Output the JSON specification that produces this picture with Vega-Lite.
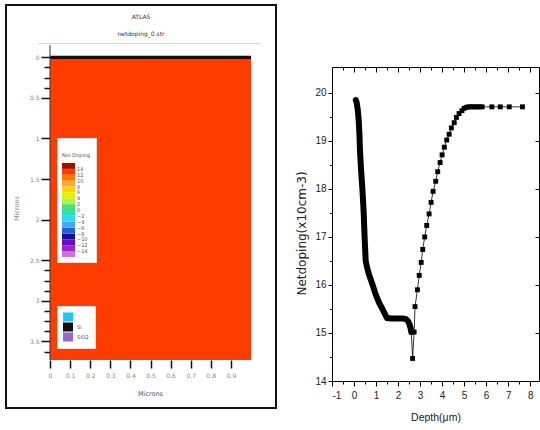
{
  "$schema": "https://vega.github.io/schema/vega-lite/v6.json",
  "padding": {"left": 5, "top": 4, "right": 0, "bottom": 0},
  "background": "white",
  "spacing": 18,
  "datasets": {
    "substrate": [{"x0": 0, "x1": 1.0, "y0": 0.02, "y1": 3.728, "doping": 13}],
    "surface": [{"x0": 0, "x1": 1.0, "y0": -0.02, "y1": 0.02, "material": "Si"}],
    "electrode": [{"x0": -0.06, "x1": 1.05, "y0": -0.17}],
    "axisline": [{"x0": 0, "y0": -0.15, "y1": 3.73}],
    "profile": [
      {"d": 0.08, "n": 19.85, "s": "dense"},
      {"d": 0.12, "n": 19.8, "s": "dense"},
      {"d": 0.17, "n": 19.65, "s": "dense"},
      {"d": 0.21, "n": 19.45, "s": "dense"},
      {"d": 0.25, "n": 19.1, "s": "dense"},
      {"d": 0.27, "n": 18.8, "s": "dense"},
      {"d": 0.32, "n": 18.4, "s": "dense"},
      {"d": 0.38, "n": 18.0, "s": "dense"},
      {"d": 0.44, "n": 17.5, "s": "dense"},
      {"d": 0.48, "n": 17.0, "s": "dense"},
      {"d": 0.53, "n": 16.5, "s": "dense"},
      {"d": 0.6, "n": 16.35, "s": "dense"},
      {"d": 0.68, "n": 16.22, "s": "dense"},
      {"d": 0.77, "n": 16.1, "s": "dense"},
      {"d": 0.86, "n": 15.98, "s": "dense"},
      {"d": 0.95, "n": 15.85, "s": "dense"},
      {"d": 1.03, "n": 15.75, "s": "dense"},
      {"d": 1.15, "n": 15.62, "s": "dense"},
      {"d": 1.29, "n": 15.5, "s": "dense"},
      {"d": 1.4, "n": 15.4, "s": "dense"},
      {"d": 1.5, "n": 15.31, "s": "dense"},
      {"d": 1.7, "n": 15.3, "s": "dense"},
      {"d": 2.0, "n": 15.3, "s": "dense"},
      {"d": 2.2, "n": 15.3, "s": "dense"},
      {"d": 2.35, "n": 15.29, "s": "dense"},
      {"d": 2.45, "n": 15.25, "s": "dense"},
      {"d": 2.52, "n": 15.18, "s": "dense"},
      {"d": 2.58, "n": 15.08, "s": "dense"},
      {"d": 2.6, "n": 15.02, "s": "dense"},
      {"d": 2.6, "n": 15.02, "s": "sq"},
      {"d": 2.66, "n": 14.47, "s": "sq"},
      {"d": 2.73, "n": 15.02, "s": "sq"},
      {"d": 2.77, "n": 15.55, "s": "sq"},
      {"d": 2.88, "n": 15.9, "s": "sq"},
      {"d": 2.96, "n": 16.2, "s": "sq"},
      {"d": 3.05, "n": 16.47, "s": "sq"},
      {"d": 3.12, "n": 16.74, "s": "sq"},
      {"d": 3.21, "n": 17.0, "s": "sq"},
      {"d": 3.3, "n": 17.24, "s": "sq"},
      {"d": 3.41, "n": 17.48, "s": "sq"},
      {"d": 3.5, "n": 17.72, "s": "sq"},
      {"d": 3.59, "n": 17.95, "s": "sq"},
      {"d": 3.71, "n": 18.16, "s": "sq"},
      {"d": 3.8, "n": 18.36, "s": "sq"},
      {"d": 3.91, "n": 18.55, "s": "sq"},
      {"d": 4.0, "n": 18.71, "s": "sq"},
      {"d": 4.1, "n": 18.87, "s": "sq"},
      {"d": 4.21, "n": 19.02, "s": "sq"},
      {"d": 4.32, "n": 19.14, "s": "sq"},
      {"d": 4.42, "n": 19.27, "s": "sq"},
      {"d": 4.55, "n": 19.38, "s": "sq"},
      {"d": 4.65, "n": 19.49, "s": "sq"},
      {"d": 4.77, "n": 19.57, "s": "sq"},
      {"d": 4.9, "n": 19.63, "s": "sq"},
      {"d": 5.0, "n": 19.68, "s": "sq"},
      {"d": 5.1, "n": 19.7, "s": "sq"},
      {"d": 5.2, "n": 19.71, "s": "sq"},
      {"d": 5.3, "n": 19.71, "s": "sq"},
      {"d": 5.4, "n": 19.71, "s": "sq"},
      {"d": 5.5, "n": 19.71, "s": "sq"},
      {"d": 5.6, "n": 19.71, "s": "sq"},
      {"d": 5.7, "n": 19.71, "s": "sq"},
      {"d": 5.82, "n": 19.71, "s": "sq"},
      {"d": 6.26, "n": 19.71, "s": "sq"},
      {"d": 6.64, "n": 19.71, "s": "sq"},
      {"d": 7.05, "n": 19.71, "s": "sq"},
      {"d": 7.65, "n": 19.71, "s": "sq"}
    ]
  },
  "hconcat": [
    {
      "width": 270,
      "height": 403,
      "view": {"stroke": "#111", "strokeWidth": 2, "fill": "white"},
      "title": {"text": ["ATLAS", "netdoping_0.str"], "fontSize": 6, "font": "DejaVu Sans", "fontWeight": "normal", "color": "#333", "offset": -32, "lineHeight": 17, "anchor": "middle"},
      "layer": [
        {
          "data": {"name": "substrate"},
          "mark": {"type": "rect"},
          "encoding": {
            "x": {"field": "x0", "type": "quantitative", "title": "Microns",
              "scale": {"domain": [-0.219, 1.124], "nice": false, "zero": false},
              "axis": {"orient": "bottom", "offset": -48, "domain": false, "grid": false, "tickCount": 1000,
                "values": [0, 0.1, 0.2, 0.3, 0.4, 0.5, 0.6, 0.7, 0.8, 0.9],
                "labelExpr": "datum.value + ''", "labelOverlap": false,
                "tickSize": 8, "tickWidth": 1.5, "tickColor": "#111",
                "labelFontSize": 6, "labelFont": "DejaVu Sans", "labelColor": "#888", "labelPadding": 4,
                "titleFontSize": 6.5, "titleFont": "DejaVu Sans", "titleFontWeight": "normal", "titleColor": "#555", "titleX": 144, "titlePadding": 12}},
            "x2": {"field": "x1"},
            "y": {"field": "y0", "type": "quantitative", "title": "Microns",
              "scale": {"domain": [-0.644, 4.319], "nice": false, "zero": false, "reverse": true},
              "axis": {"orient": "left", "offset": -44, "domain": false, "grid": false, "tickCount": 1000,
                "values": [0, 0.125, 0.25, 0.375, 0.5, 1, 1.5, 2, 2.5, 2.625, 2.75, 2.875, 3, 3.125, 3.25, 3.375, 3.5, 3.625],
                "labelExpr": "datum.value % 0.5 === 0 ? datum.value + '' : ''", "labelOverlap": false,
                "tickSize": {"condition": {"test": "datum.value % 0.5 === 0", "value": 9}, "value": 6},
                "tickWidth": 1.5, "tickColor": "#111",
                "labelFontSize": 6, "labelFont": "DejaVu Sans", "labelColor": "#888", "labelPadding": 2,
                "titleFontSize": 6.5, "titleFont": "DejaVu Sans", "titleFontWeight": "normal", "titleColor": "#888", "titleY": 203, "titlePadding": 10}},
            "y2": {"field": "y1"},
            "color": {"field": "doping", "type": "quantitative",
              "scale": {"type": "quantize", "domain": [-16, 16],
                "range": ["#d070e0", "#a020e0", "#6010c0", "#1010a0", "#2060e0", "#40a8f0", "#30d8f0", "#30e0b0", "#50e070", "#b8f040", "#e8f000", "#ffd700", "#ffaa33", "#ff7a00", "#ff3c00", "#a01000"]},
              "legend": {"type": "gradient", "direction": "vertical", "orient": "none", "legendX": 51, "legendY": 133,
                "fillColor": "white", "strokeColor": "#ddd", "padding": 5,
                "title": ["", "Net Doping"], "titleFontSize": 5, "titleFont": "DejaVu Sans", "titleFontWeight": "normal", "titleColor": "#555", "titleLineHeight": 10,
                "gradientLength": 94, "gradientThickness": 13, "gradientStrokeWidth": 0,
                "labelFontSize": 5, "labelFont": "DejaVu Sans", "labelColor": "#555", "labelPadding": 6}}
          }
        },
        {
          "data": {"name": "surface"},
          "mark": {"type": "rect"},
          "encoding": {
            "x": {"field": "x0", "type": "quantitative", "title": "Microns"},
            "x2": {"field": "x1"},
            "y": {"field": "y0", "type": "quantitative", "title": "Microns"},
            "y2": {"field": "y1"},
            "color": {"field": "material", "type": "nominal",
              "scale": {"domain": ["Junction", "Si", "SiO2"], "range": ["#1ec8f0", "#111111", "#9a66cc"]},
              "legend": {"orient": "none", "legendX": 51, "legendY": 301, "fillColor": "white", "strokeColor": "#ddd", "padding": 6,
                "title": null, "symbolType": "M-1,-0.9H1V0.9H-1Z", "symbolSize": 100, "symbolStrokeWidth": 0, "rowPadding": 0,
                "labelFontSize": 5, "labelFont": "DejaVu Sans", "labelColor": "#3050c0",
                "labelExpr": "datum.label == 'Junction' ? '' : datum.label"}}
          }
        },
        {
          "data": {"name": "electrode"},
          "mark": {"type": "rule", "color": "#cfe8a0", "strokeWidth": 1},
          "encoding": {
            "x": {"field": "x0", "type": "quantitative", "title": "Microns"},
            "x2": {"field": "x1"},
            "y": {"field": "y0", "type": "quantitative", "title": "Microns"}
          }
        },
        {
          "data": {"name": "axisline"},
          "mark": {"type": "rule", "color": "#333", "strokeWidth": 1},
          "encoding": {
            "x": {"field": "x0", "type": "quantitative", "title": "Microns"},
            "y": {"field": "y0", "type": "quantitative", "title": "Microns"},
            "y2": {"field": "y1"}
          }
        }
      ],
      "resolve": {"scale": {"color": "independent"}, "legend": {"color": "independent"}}
    },
    {
      "spacing": 20,
      "vconcat": [
        {
          "width": 207,
          "height": 41,
          "view": {"stroke": null, "fill": "white"},
          "data": {"values": []},
          "mark": {"type": "point", "opacity": 0},
          "encoding": {}
        },
        {
          "width": 207,
          "height": 314,
          "view": {"stroke": "#000", "strokeWidth": 1},
          "data": {"name": "profile"},
          "layer": [
            {
              "mark": {"type": "line", "color": "#000", "strokeWidth": 0.8},
              "encoding": {
                "x": {"field": "d", "type": "quantitative", "title": "Depth(μm)",
                  "scale": {"domain": [-1, 8.4], "nice": false, "zero": false},
                  "axis": {"orient": "bottom", "domain": false, "grid": false, "tickCount": 1000,
                    "values": [-1, -0.5, 0, 0.5, 1, 1.5, 2, 2.5, 3, 3.5, 4, 4.5, 5, 5.5, 6, 6.5, 7, 7.5, 8],
                    "labelExpr": "datum.value % 1 === 0 ? (datum.value < 0 ? '-' + (-datum.value) : '' + datum.value) : ''", "labelOverlap": false,
                    "tickSize": {"condition": {"test": "datum.value % 1 === 0", "value": 5}, "value": 3},
                    "tickColor": "#000", "labelFont": "Liberation Sans", "labelFontSize": 10, "labelColor": "#222", "labelPadding": 4,
                    "titleFont": "Liberation Sans", "titleFontSize": 10.5, "titleFontWeight": "normal", "titleColor": "#222", "titlePadding": 12}},
                "y": {"field": "n", "type": "quantitative", "title": "Netdoping(x10cm-3)",
                  "scale": {"domain": [14, 20.54], "nice": false, "zero": false},
                  "axis": {"orient": "left", "domain": false, "grid": false, "tickCount": 1000,
                    "values": [14, 14.5, 15, 15.5, 16, 16.5, 17, 17.5, 18, 18.5, 19, 19.5, 20],
                    "labelExpr": "datum.value % 1 === 0 ? '' + datum.value : ''", "labelOverlap": false,
                    "tickSize": {"condition": {"test": "datum.value % 1 === 0", "value": 4}, "value": 2.5},
                    "tickColor": "#000", "labelFont": "Liberation Sans", "labelFontSize": 10, "labelColor": "#222", "labelPadding": 2,
                    "titleFont": "DejaVu Sans", "titleFontSize": 12, "titleFontWeight": "normal", "titleColor": "#222", "titlePadding": 6, "titleY": 166}}
              }
            },
            {
              "transform": [{"filter": "datum.s === 'dense'"}],
              "mark": {"type": "line", "color": "#000", "strokeWidth": 6, "strokeCap": "round", "strokeJoin": "round"},
              "encoding": {
                "x": {"field": "d", "type": "quantitative",
                  "axis": {"orient": "bottom", "offset": -314, "domain": false, "grid": false, "labels": false, "title": null, "tickCount": 1000,
                    "values": [-1, -0.5, 0, 0.5, 1, 1.5, 2, 2.5, 3, 3.5, 4, 4.5, 5, 5.5, 6, 6.5, 7, 7.5, 8],
                    "tickSize": {"condition": {"test": "datum.value % 1 === 0", "value": 5}, "value": 3}, "tickColor": "#000"}},
                "y": {"field": "n", "type": "quantitative",
                  "axis": {"orient": "left", "offset": -207, "domain": false, "grid": false, "labels": false, "title": null, "tickCount": 1000,
                    "values": [15, 16, 17, 18, 19, 20], "tickSize": 4, "tickColor": "#000"}}
              }
            },
            {
              "transform": [{"filter": "datum.s === 'sq'"}],
              "mark": {"type": "point", "shape": "square", "filled": true, "color": "#000", "size": 24, "opacity": 1},
              "encoding": {
                "x": {"field": "d", "type": "quantitative", "axis": null},
                "y": {"field": "n", "type": "quantitative", "axis": null}
              }
            }
          ],
          "resolve": {"axis": {"x": "independent", "y": "independent"}}
        }
      ]
    }
  ]
}
